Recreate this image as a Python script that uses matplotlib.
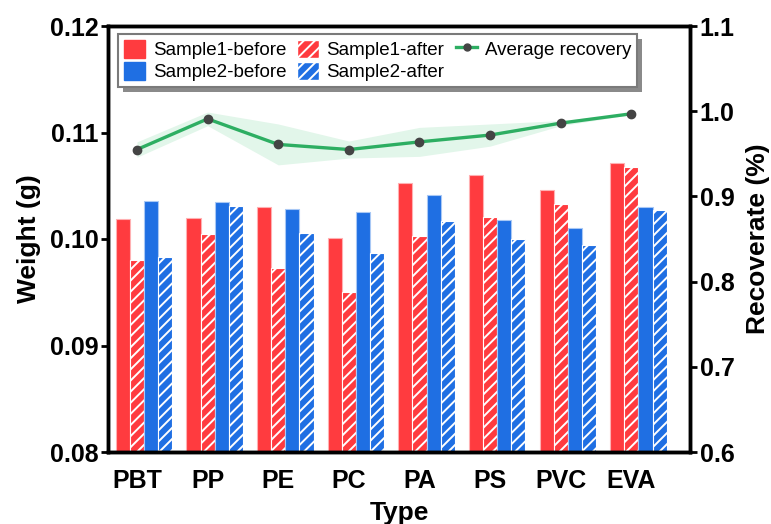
import matplotlib
matplotlib.use("Agg")
import matplotlib.pyplot as plt
import numpy as np
from matplotlib.patches import Rectangle, Patch
from matplotlib.lines import Line2D

plt.rcParams['font.family'] = ['Liberation Sans', 'DejaVu Sans']
plt.rcParams['hatch.linewidth'] = 1.4

categories = ["PBT", "PP", "PE", "PC", "PA", "PS", "PVC", "EVA"]
s1_before = [0.1019, 0.1020, 0.1030, 0.1001, 0.1053, 0.1060, 0.1046, 0.1071]
s1_after  = [0.0980, 0.1005, 0.0973, 0.0950, 0.1003, 0.1021, 0.1033, 0.1068]
s2_before = [0.1036, 0.1035, 0.1028, 0.1025, 0.1041, 0.1018, 0.1010, 0.1030]
s2_after  = [0.0983, 0.1031, 0.1006, 0.0987, 0.1017, 0.1000, 0.0994, 0.1027]
recovery  = [0.955, 0.991, 0.961, 0.955, 0.964, 0.972, 0.986, 0.997]
recovery_sd = [0.009, 0.008, 0.024, 0.010, 0.017, 0.013, 0.003, 0.001]

red = '#FF3B3F'
blue = '#1F6FE3'
green = '#2DAE62'
band = '#E2F6EA'

fig = plt.figure(figsize=(7.71, 5.24), dpi=100)
ax = fig.add_axes([108/771, 72/524, 582/771, 426/524])
x = np.arange(len(categories))
w = 0.2

ax.bar(x - w, s1_before, w, color=red, edgecolor='#FFB0B2', linewidth=0.8, zorder=2)
ax.bar(x, s1_after, w, color=red, edgecolor='white', hatch='///', linewidth=0.8, zorder=2)
ax.bar(x + w, s2_before, w, color=blue, edgecolor='#A8C8F5', linewidth=0.8, zorder=2)
ax.bar(x + 2*w, s2_after, w, color=blue, edgecolor='white', hatch='///', linewidth=0.8, zorder=2)

ax.set_ylim(0.08, 0.12)
ax.set_yticks([0.08, 0.09, 0.10, 0.11, 0.12])
ax.set_yticklabels(['0.08', '0.09', '0.10', '0.11', '0.12'])
ax.set_xlim(-0.41, 7.83)
ax.set_xticks(x)
ax.set_xticklabels(categories)
ax.tick_params(axis='x', length=0, pad=12, labelsize=18)
ax.tick_params(axis='y', direction='out', length=5, width=2, pad=2, labelsize=18)
for lab in ax.get_xticklabels() + ax.get_yticklabels():
    lab.set_fontweight('bold')
for sp in ax.spines.values():
    sp.set_linewidth(2.5)
ax.set_xlabel('Type', fontsize=19, fontweight='bold', labelpad=6)
ax.set_ylabel('Weight (g)', fontsize=19, fontweight='bold', labelpad=6)

ax2 = ax.twinx()
rec = np.array(recovery)
sd = np.array(recovery_sd)
ax2.fill_between(x, rec - sd, rec + sd, color=band, linewidth=0, zorder=1)
ax2.plot(x, recovery, color=green, linewidth=2.4, marker='o', markersize=6,
         markerfacecolor='#444444', markeredgecolor='#444444', zorder=3)
ax2.set_ylim(0.6, 1.1)
ax2.set_yticks([0.6, 0.7, 0.8, 0.9, 1.0, 1.1])
ax2.set_yticklabels(['0.6', '0.7', '0.8', '0.9', '1.0', '1.1'])
ax2.tick_params(axis='y', direction='out', length=5, width=2, pad=2, labelsize=18)
for lab in ax2.get_yticklabels():
    lab.set_fontweight('bold')
for sp in ax2.spines.values():
    sp.set_linewidth(2.5)
ax2.set_ylabel('Recoverate (%)', fontsize=19, fontweight='bold', labelpad=8)

handles = [
    Patch(facecolor=red, edgecolor=red),
    Patch(facecolor=blue, edgecolor=blue),
    Patch(facecolor=red, edgecolor='white', hatch='///'),
    Patch(facecolor=blue, edgecolor='white', hatch='///'),
    Line2D([], [], color=green, linewidth=2.4, marker='o', markersize=5,
           markerfacecolor='#444444', markeredgecolor='#444444'),
]
labels = ['Sample1-before', 'Sample2-before', 'Sample1-after', 'Sample2-after', 'Average recovery']
leg = ax2.legend(handles, labels, ncol=3, loc='upper left',
                 bbox_to_anchor=(118/771, 1 - 34/524), bbox_transform=fig.transFigure,
                 borderaxespad=0, fontsize=13.5, frameon=True, fancybox=False,
                 edgecolor='#7a7a7a', framealpha=1, handlelength=1.15, handleheight=1.1,
                 handletextpad=0.4, columnspacing=0.6, labelspacing=0.15,
                 borderpad=0.3)
leg.get_frame().set_linewidth(1.5)
leg.set_zorder(10)

fig.canvas.draw()
bb = leg.get_window_extent()
shadow = Rectangle((bb.x0 + 5, bb.y0 - 5), bb.width, bb.height, transform=None,
                   facecolor='#8a8a8a', edgecolor='none', zorder=9, clip_on=False)
ax2.add_artist(shadow)

fig.savefig('out.png', dpi=100)
